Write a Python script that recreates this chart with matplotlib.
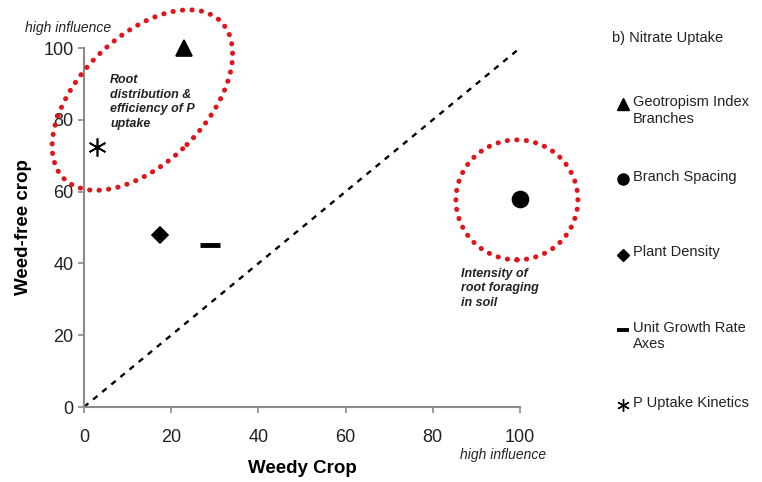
import matplotlib.pyplot as plt
from matplotlib.patches import Ellipse
from matplotlib.transforms import ScaledTranslation
from matplotlib.lines import Line2D

plt.rcParams['font.family'] = ['Liberation Sans', 'DejaVu Sans']

# traits: (weedy crop, weed-free crop)
traits = ["Geotropism Index\nBranches", "Branch Spacing", "Plant Density",
          "Unit Growth Rate\nAxes", "P Uptake Kinetics"]
weedy = [23, 100, 17.5, 29, 3]
weed_free = [100, 58, 48, 45, 72.5]
markers = ["^", "o", "D", "_", (6, 2, 0)]
msizes = [12, 11.5, 8, 14, 13]
legend_msizes = [8, 8, 6, 9, 9]

ticks = [0, 20, 40, 60, 80, 100]
title = "b) Nitrate Uptake"

fig = plt.figure(figsize=(7.62, 4.82), dpi=100)
ax = fig.add_axes([0.1102, 0.1556, 0.5722, 0.7448])
ax.set_xlim(0, 100)
ax.set_ylim(0, 100)
for s in ["top", "right"]:
    ax.spines[s].set_visible(False)
for s in ["left", "bottom"]:
    ax.spines[s].set_color("#8a8a8a")
    ax.spines[s].set_linewidth(1.5)
ax.set_xticks(ticks)
ax.set_yticks(ticks)
ax.tick_params(colors="#8a8a8a", labelcolor="#222222", labelsize=13,
               length=4, width=1.2)
ax.tick_params(axis="x", pad=12)
ax.set_xlabel("Weedy Crop", fontsize=13.5, fontweight="bold", labelpad=10)
ax.set_ylabel("Weed-free crop", fontsize=13.5, fontweight="bold", labelpad=8)

# 1:1 line
ax.plot([0, 100], [0, 100], color="black", lw=1.7, linestyle=(0, (2.4, 2.6)),
        zorder=2)

for x, y, m, ms in zip(weedy, weed_free, markers, msizes):
    mew = 3.5 if m == "_" else 1.2
    ax.plot(x, y, linestyle="none", marker=m, markersize=ms, color="black",
            markeredgewidth=mew, clip_on=False, zorder=4)

# dotted red highlight ellipses (size in inches, centred on data)
def ring(cx, cy, w, h, ang):
    tr = fig.dpi_scale_trans + ScaledTranslation(cx, cy, ax.transData)
    e = Ellipse((0, 0), w, h, angle=ang, transform=tr, fill=False,
                edgecolor="#e0141b", lw=3.6, linestyle=(0, (0.05, 1.85)),
                capstyle="round", clip_on=False, zorder=3)
    ax.add_patch(e)

ring(13.4, 85.5, 2.22, 1.26, 45)
ring(99.3, 57.7, 1.22, 1.2, 0)

ax.text(6, 92.8, "Root\ndistribution &\nefficiency of P\nuptake", fontsize=9,
        fontweight="bold", style="italic", color="#222222", va="top",
        ha="left", linespacing=1.3)
ax.text(86.5, 38.8, "Intensity of\nroot foraging\nin soil", fontsize=9,
        fontweight="bold", style="italic", color="#222222", va="top",
        ha="left", linespacing=1.3)

fig.text(25 / 762, 1 - 28 / 482, "high influence", fontsize=10,
         style="italic", color="#222222", va="center", ha="left")
fig.text(460 / 762, 1 - 455 / 482, "high influence", fontsize=10,
         style="italic", color="#222222", va="center", ha="left")

# manual legend at the right
fig.text(612 / 762, 1 - 38 / 482, title, fontsize=10.5, color="#222222",
         va="center", ha="left")
for i, (lab, m, ms) in enumerate(zip(traits, markers, legend_msizes)):
    yp = 1 - (104 + i * 75.3) / 482
    mew = 2.8 if m == "_" else 1.0
    fig.add_artist(Line2D([623 / 762], [yp], marker=m, markersize=ms,
                          color="black", markeredgewidth=mew,
                          transform=fig.transFigure))
    fig.text(633 / 762, yp + 0.019, lab, fontsize=10.5, color="#222222",
             va="top", ha="left", linespacing=1.25)

fig.savefig("out.png", dpi=100)
